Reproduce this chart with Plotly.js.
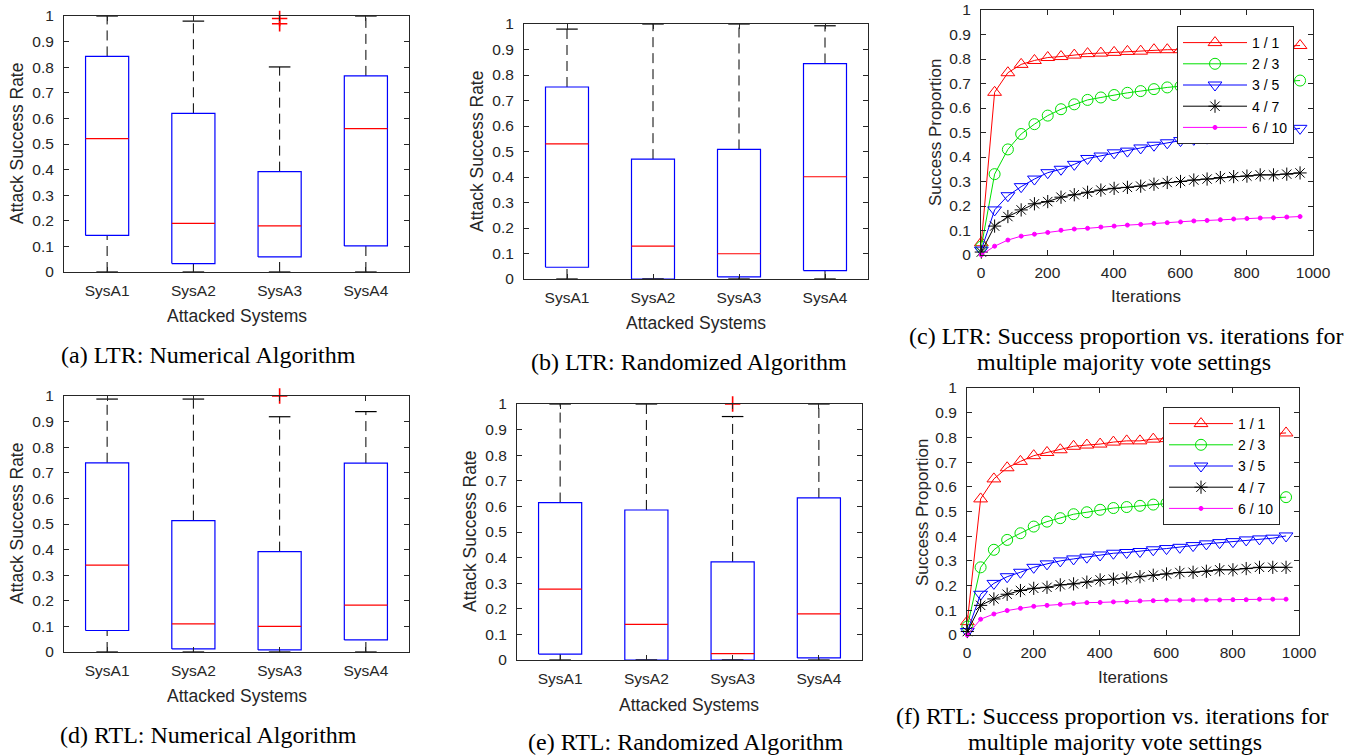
<!DOCTYPE html>
<html>
<head>
<meta charset="utf-8">
<script src="https://cdn.plot.ly/plotly-3.0.1.min.js"></script>
<style>html,body{margin:0;padding:0;background:#fff;}#chart{width:1364px;height:756px;}</style>
</head>
<body>
<div id="chart"></div>
<script>
// ---------------- DATA ----------------
const categories = ['SysA1', 'SysA2', 'SysA3', 'SysA4'];

// (a) LTR: Numerical Algorithm
const aLower  = [0.000, 0.000, 0.000, 0.000];
const aQ1     = [0.143, 0.033, 0.059, 0.102];
const aMedian = [0.521, 0.190, 0.180, 0.560];
const aQ3     = [0.842, 0.620, 0.392, 0.766];
const aUpper  = [1.000, 0.980, 0.801, 1.000];
const aOutCat = ['SysA3', 'SysA3'];
const aOutVal = [0.990, 0.970];

// (b) LTR: Randomized Algorithm
const bLower  = [0.000, 0.000, 0.000, 0.000];
const bQ1     = [0.046, 0.000, 0.008, 0.033];
const bMedian = [0.530, 0.129, 0.099, 0.401];
const bQ3     = [0.753, 0.470, 0.508, 0.845];
const bUpper  = [0.980, 1.000, 1.000, 0.993];
const bOutCat = [];
const bOutVal = [];

// (d) RTL: Numerical Algorithm
const dLower  = [0.000, 0.000, 0.000, 0.000];
const dQ1     = [0.084, 0.012, 0.008, 0.047];
const dMedian = [0.339, 0.110, 0.100, 0.183];
const dQ3     = [0.739, 0.513, 0.392, 0.738];
const dUpper  = [0.988, 0.988, 0.919, 0.939];
const dOutCat = ['SysA3'];
const dOutVal = [1.000];

// (e) RTL: Randomized Algorithm
const eLower  = [0.000, 0.000, 0.000, 0.000];
const eQ1     = [0.023, 0.000, 0.000, 0.008];
const eMedian = [0.277, 0.139, 0.025, 0.180];
const eQ3     = [0.615, 0.586, 0.383, 0.633];
const eUpper  = [1.000, 1.000, 0.951, 1.000];
const eOutCat = ['SysA3'];
const eOutVal = [1.000];

// (c)/(f) success proportion vs iterations
const iterations = [1, 41, 81, 121, 161, 201, 241, 281, 321, 361, 401, 441, 481, 521, 561, 601, 641, 681, 721, 761, 801, 841, 881, 921, 961];
const seriesNames = ['1 / 1', '2 / 3', '3 / 5', '4 / 7', '6 / 10'];

const ltr_1_1  = [0.050, 0.664, 0.744, 0.778, 0.794, 0.806, 0.810, 0.816, 0.822, 0.824, 0.827, 0.831, 0.832, 0.838, 0.838, 0.838, 0.840, 0.842, 0.844, 0.846, 0.848, 0.850, 0.851, 0.853, 0.855];
const ltr_2_3  = [0.034, 0.330, 0.431, 0.494, 0.534, 0.569, 0.595, 0.615, 0.633, 0.643, 0.653, 0.662, 0.669, 0.677, 0.684, 0.689, 0.692, 0.695, 0.698, 0.700, 0.703, 0.705, 0.707, 0.710, 0.712];
const ltr_3_5  = [0.020, 0.184, 0.242, 0.279, 0.310, 0.336, 0.350, 0.370, 0.394, 0.404, 0.417, 0.424, 0.437, 0.448, 0.458, 0.467, 0.472, 0.477, 0.482, 0.487, 0.492, 0.498, 0.503, 0.509, 0.517];
const ltr_4_7  = [0.012, 0.118, 0.157, 0.184, 0.209, 0.218, 0.236, 0.246, 0.256, 0.265, 0.272, 0.276, 0.281, 0.289, 0.296, 0.300, 0.306, 0.310, 0.316, 0.320, 0.322, 0.327, 0.327, 0.330, 0.335];
const ltr_6_10 = [0.000, 0.036, 0.061, 0.077, 0.085, 0.092, 0.101, 0.106, 0.109, 0.114, 0.118, 0.122, 0.125, 0.129, 0.132, 0.135, 0.139, 0.141, 0.144, 0.147, 0.149, 0.151, 0.152, 0.155, 0.157];

const rtl_1_1  = [0.054, 0.551, 0.632, 0.677, 0.703, 0.726, 0.739, 0.750, 0.764, 0.769, 0.773, 0.781, 0.786, 0.786, 0.793, 0.795, 0.798, 0.800, 0.802, 0.805, 0.807, 0.809, 0.811, 0.813, 0.818];
const rtl_2_3  = [0.034, 0.274, 0.345, 0.385, 0.412, 0.439, 0.459, 0.473, 0.489, 0.497, 0.507, 0.514, 0.518, 0.523, 0.528, 0.534, 0.537, 0.540, 0.543, 0.546, 0.549, 0.551, 0.554, 0.556, 0.558];
const rtl_3_5  = [0.014, 0.165, 0.209, 0.236, 0.254, 0.274, 0.288, 0.300, 0.308, 0.315, 0.324, 0.331, 0.334, 0.338, 0.345, 0.350, 0.355, 0.362, 0.369, 0.374, 0.378, 0.385, 0.389, 0.392, 0.401];
const rtl_4_7  = [0.014, 0.120, 0.146, 0.165, 0.180, 0.189, 0.193, 0.203, 0.207, 0.214, 0.223, 0.226, 0.231, 0.236, 0.242, 0.247, 0.253, 0.254, 0.258, 0.264, 0.264, 0.269, 0.274, 0.274, 0.274];
const rtl_6_10 = [0.000, 0.064, 0.085, 0.099, 0.108, 0.116, 0.120, 0.124, 0.128, 0.131, 0.132, 0.134, 0.135, 0.138, 0.139, 0.141, 0.141, 0.142, 0.142, 0.142, 0.143, 0.143, 0.145, 0.145, 0.145];

const captions = {
  a: '(a) LTR: Numerical Algorithm',
  b: '(b) LTR: Randomized Algorithm',
  c1: '(c) LTR: Success proportion vs. iterations for',
  c2: 'multiple majority vote settings',
  d: '(d) RTL: Numerical Algorithm',
  e: '(e) RTL: Randomized Algorithm',
  f1: '(f) RTL: Success proportion vs. iterations for',
  f2: 'multiple majority vote settings'
};

// ---------------- STYLE ----------------
const W = 1364, H = 756;
const AX = '#262626';
const SANS = 'Liberation Sans, Arial, Helvetica, sans-serif';
const SERIF = 'Liberation Serif, Times New Roman, serif';
const BOX_HALF = 0.25, CAP_HALF = 0.125;
const CAP_SIZE = 24;

function px2x(p) { return p / W; }
function px2y(p) { return 1 - p / H; }

function boxTraces(xa, ya, lower, q1, med, q3, upper, outCat, outVal) {
  const wx = [], wy = [], bx = [], by = [], mx = [], my = [], cx = [], cy = [];
  categories.forEach((c, i) => {
    const p = i + 1;
    wx.push(p, p, null, p, p, null);
    wy.push(q3[i], upper[i], null, lower[i], q1[i], null);
    bx.push(p - BOX_HALF, p + BOX_HALF, p + BOX_HALF, p - BOX_HALF, p - BOX_HALF, null);
    by.push(q1[i], q1[i], q3[i], q3[i], q1[i], null);
    mx.push(p - BOX_HALF, p + BOX_HALF, null);
    my.push(med[i], med[i], null);
    cx.push(p - CAP_HALF, p + CAP_HALF, null, p - CAP_HALF, p + CAP_HALF, null);
    cy.push(upper[i], upper[i], null, lower[i], lower[i], null);
  });
  const common = {xaxis: xa, yaxis: ya, mode: 'lines', showlegend: false, hoverinfo: 'skip', cliponaxis: false};
  const tr = [
    Object.assign({}, common, {x: wx, y: wy, line: {color: '#000', width: 1, dash: '10px,6px'}}),
    Object.assign({}, common, {x: bx, y: by, line: {color: '#0000FF', width: 1.2}}),
    Object.assign({}, common, {x: mx, y: my, line: {color: '#FF0000', width: 1.2}}),
    Object.assign({}, common, {x: cx, y: cy, line: {color: '#000', width: 1.2}})
  ];
  if (outVal.length) {
    tr.push({xaxis: xa, yaxis: ya, mode: 'markers', showlegend: false, hoverinfo: 'skip', cliponaxis: false,
      x: outCat.map(c => categories.indexOf(c) + 1), y: outVal,
      marker: {symbol: 'cross-thin-open', size: 11, color: '#FF0000', line: {color: '#FF0000', width: 1.6}}});
  }
  return tr;
}

const lineStyles = [
  {color: '#FF0000', symbol: 'triangle-up-open', size: 12},
  {color: '#00E000', symbol: 'circle-open', size: 11},
  {color: '#0000FF', symbol: 'triangle-down-open', size: 12},
  {color: '#000000', symbol: 'asterisk-open', size: 11},
  {color: '#FF00FF', symbol: 'circle', size: 4}
];

function lineTraces(xa, ya, leg, seriesList) {
  return seriesList.map((vals, k) => {
    const s = lineStyles[k];
    const mk = {symbol: s.symbol, size: s.size, color: s.color, line: {color: s.color, width: 1}};
    return {xaxis: xa, yaxis: ya, legend: leg, name: seriesNames[k], x: iterations, y: vals,
      mode: 'lines+markers', cliponaxis: false, line: {color: s.color, width: 1}, marker: mk};
  });
}

const traces = [].concat(
  boxTraces('x', 'y', aLower, aQ1, aMedian, aQ3, aUpper, aOutCat, aOutVal),
  boxTraces('x2', 'y2', bLower, bQ1, bMedian, bQ3, bUpper, bOutCat, bOutVal),
  lineTraces('x3', 'y3', 'legend', [ltr_1_1, ltr_2_3, ltr_3_5, ltr_4_7, ltr_6_10]),
  boxTraces('x4', 'y4', dLower, dQ1, dMedian, dQ3, dUpper, dOutCat, dOutVal),
  boxTraces('x5', 'y5', eLower, eQ1, eMedian, eQ3, eUpper, eOutCat, eOutVal),
  lineTraces('x6', 'y6', 'legend2', [rtl_1_1, rtl_2_3, rtl_3_5, rtl_4_7, rtl_6_10])
);

function axBase(extra) {
  return Object.assign({
    showline: true, linecolor: AX, linewidth: 1, mirror: 'ticks',
    ticks: 'inside', ticklen: 5, tickcolor: AX, tickwidth: 1,
    showgrid: false, zeroline: false, fixedrange: true, ticklabeloverflow: 'allow',
    tickfont: {family: SANS, size: 15.5, color: AX}
  }, extra);
}
function catX(domain, anchor) {
  return axBase({domain: domain, anchor: anchor, range: [0.5, 4.5], tickmode: 'array',
    tickvals: categories.map((c, i) => i + 1), ticktext: categories, ticklabelstandoff: 4});
}
function rateY(domain, anchor) {
  return axBase({domain: domain, anchor: anchor, range: [0, 1], dtick: 0.1, tick0: 0, ticklabelstandoff: 6});
}
function iterX(domain, anchor) {
  return axBase({domain: domain, anchor: anchor, range: [0, 1000], dtick: 200, tick0: 0, ticklabelstandoff: 3});
}

// plot areas in pixels [left, right], [top, bottom]
const P = {
  a: {x: [64, 409], y: [16, 272]},
  b: {x: [524, 868], y: [24, 279]},
  c: {x: [981, 1313], y: [10, 255]},
  d: {x: [64, 409], y: [396, 652]},
  e: {x: [517, 862], y: [404, 660]},
  f: {x: [967, 1299], y: [388, 635]}
};
const dx = k => [px2x(P[k].x[0]), px2x(P[k].x[1])];
const dy = k => [px2y(P[k].y[1]), px2y(P[k].y[0])];

function ann(text, xp, yp, size, family, angle, yanchor) {
  return {text: text, x: px2x(xp), y: px2y(yp), xref: 'paper', yref: 'paper',
    xanchor: 'center', yanchor: yanchor || 'middle', showarrow: false, textangle: angle || 0,
    borderpad: 0, borderwidth: 0,
    font: {family: family, size: size, color: family === SERIF ? '#000' : AX}};
}

const annotations = [
  ann('Attack Success Rate', 17, 144, 17.5, SANS, -90),
  ann('Attacked Systems', 236.5, 316, 17.5, SANS),
  ann('Attack Success Rate', 477, 152, 17.5, SANS, -90),
  ann('Attacked Systems', 695.5, 323, 17.5, SANS),
  ann('Success Proportion', 935, 132, 17, SANS, -90),
  ann('Iterations', 1146, 296, 17, SANS),
  ann('Attack Success Rate', 17, 524, 17.5, SANS, -90),
  ann('Attacked Systems', 236.5, 696, 17.5, SANS),
  ann('Attack Success Rate', 470, 532, 17.5, SANS, -90),
  ann('Attacked Systems', 689, 705, 17.5, SANS),
  ann('Success Proportion', 922, 512, 17, SANS, -90),
  ann('Iterations', 1133, 677, 17, SANS),
  ann(captions.a, 208, 354.5, CAP_SIZE, SERIF),
  ann(captions.b, 689, 362, CAP_SIZE, SERIF),
  ann(captions.c1, 1126, 348.5, CAP_SIZE, SERIF, 0, 'bottom'),
  ann(captions.c2, 1124, 348.5, CAP_SIZE, SERIF, 0, 'top'),
  ann(captions.d, 208, 734.5, CAP_SIZE, SERIF),
  ann(captions.e, 685, 742, CAP_SIZE, SERIF),
  ann(captions.f1, 1112, 729, CAP_SIZE, SERIF, 0, 'bottom'),
  ann(captions.f2, 1115, 729, CAP_SIZE, SERIF, 0, 'top')
];

function legendCfg(xp, yp) {
  return {x: px2x(xp), y: px2y(yp), xanchor: 'left', yanchor: 'top', bgcolor: '#fff',
    bordercolor: AX, borderwidth: 1, font: {family: SANS, size: 14, color: '#000'},
    itemwidth: 64, tracegroupgap: 0, itemclick: false, itemdoubleclick: false};
}

const layout = {
  width: W, height: H, margin: {l: 0, r: 0, t: 0, b: 0},
  paper_bgcolor: '#fff', plot_bgcolor: '#fff', showlegend: true,
  xaxis: catX(dx('a'), 'y'), yaxis: rateY(dy('a'), 'x'),
  xaxis2: catX(dx('b'), 'y2'), yaxis2: rateY(dy('b'), 'x2'),
  xaxis3: iterX(dx('c'), 'y3'), yaxis3: rateY(dy('c'), 'x3'),
  xaxis4: catX(dx('d'), 'y4'), yaxis4: rateY(dy('d'), 'x4'),
  xaxis5: catX(dx('e'), 'y5'), yaxis5: rateY(dy('e'), 'x5'),
  xaxis6: iterX(dx('f'), 'y6'), yaxis6: rateY(dy('f'), 'x6'),
  legend: legendCfg(1177, 26),
  legend2: legendCfg(1163, 407),
  annotations: annotations
};

Plotly.newPlot('chart', traces, layout, {displayModeBar: false, staticPlot: true});
</script>
</body>
</html>
